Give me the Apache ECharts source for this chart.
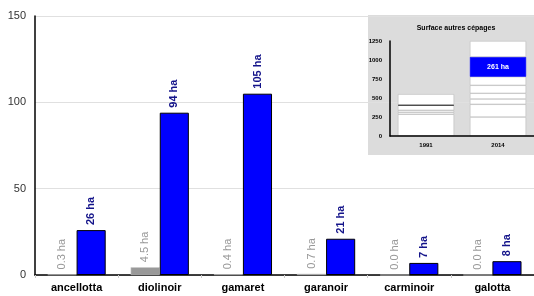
<!DOCTYPE html>
<html style="height: 100%">
    <head>
        <meta charset="utf-8">
        <script src="https://cdn.jsdelivr.net/npm/echarts@6/dist/echarts.min.js"></script>
    </head>
    <body style="height: 100%; margin: 0; background: #fff">
        <div id="main" style="width: 534px; height: 296px"></div>
        <script type="text/javascript">
            var cepages = ['ancellotta', 'diolinoir', 'gamaret', 'garanoir', 'carminoir', 'galotta'];
            var surf1991 = [0.3, 4.5, 0.4, 0.7, 0.0, 0.0];
            var surf2014 = [26, 94, 105, 21, 7, 8];

            // encart : segments empilés (ha) pour 1991 et 2014
            var annees = ['1991', '2014'];
            var segments1991 = [286, 26, 26, 67, 5.9, 140];
            var segments2014 = [250, 167, 70, 75, 105, 113, 261, 209];
            var total2014 = 261;

            var myChart = echarts.init(document.getElementById('main'));

            var insetSeries = [];
            for (let i = 0; i < segments2014.length; i++) {
                var d1991 = i < segments1991.length ? segments1991[i] : '-';
                var item1991 = { value: d1991 };
                if (i == 4) {
                    item1991.itemStyle = { color: '#000', borderColor: '#000', borderWidth: 0.8 };
                }
                var item2014 = { value: segments2014[i] };
                if (i == 6) {
                    item2014.itemStyle = { color: '#0000ff', borderColor: '#0000ff' };
                    item2014.label = {
                        show: true,
                        position: 'inside',
                        formatter: total2014 + ' ha',
                        color: '#fff',
                        fontWeight: 'bold',
                        fontSize: 7,
                        fontFamily: 'Liberation Sans'
                    };
                }
                insetSeries.push({
                    type: 'bar',
                    xAxisIndex: 1,
                    yAxisIndex: 1,
                    stack: 'total',
                    barCategoryGap: '22%',
                    silent: true,
                    itemStyle: { color: '#fff', borderColor: '#b4b4b4', borderWidth: 0.5 },
                    data: [item1991, item2014]
                });
            }

            myChart.setOption({
                backgroundColor: '#fff',
                animation: false,
                textStyle: { fontFamily: 'Liberation Sans' },
                title: {
                    text: 'Surface autres cépages',
                    left: 451,
                    textAlign: 'center',
                    top: 20,
                    textStyle: { fontSize: 7, fontWeight: 'bold', color: '#000' }
                },
                graphic: [{
                    type: 'rect',
                    z: 0,
                    shape: { x: 368, y: 15, width: 170, height: 140 },
                    style: { fill: '#dcdcdc' }
                }],
                grid: [
                    { left: 35, right: 0, top: 16, bottom: 21, containLabel: false },
                    { left: 390, right: -3, top: 41, bottom: 160, containLabel: false, z: 5 }
                ],
                xAxis: [{
                    type: 'category',
                    gridIndex: 0,
                    data: cepages,
                    axisLine: { lineStyle: { color: '#000', width: 1.5 } },
                    axisTick: { show: true, length: 3, lineStyle: { color: '#ccc' } },
                    axisLabel: { color: '#000', fontWeight: 'bold', fontSize: 11, margin: 7 }
                }, {
                    type: 'category',
                    gridIndex: 1,
                    data: annees,
                    z: 5,
                    axisLine: { lineStyle: { color: '#000', width: 1.5 } },
                    axisTick: { show: false },
                    axisLabel: { color: '#000', fontWeight: 'bold', fontSize: 6, margin: 6 }
                }],
                yAxis: [{
                    type: 'value',
                    gridIndex: 0,
                    min: 0,
                    max: 150,
                    interval: 50,
                    axisLine: { show: true, lineStyle: { color: '#000', width: 1.5 } },
                    axisTick: { show: false },
                    splitLine: { lineStyle: { color: '#e0e0e0' } },
                    axisLabel: { color: '#333', fontSize: 11, margin: 9 }
                }, {
                    type: 'value',
                    gridIndex: 1,
                    min: 0,
                    max: 1250,
                    interval: 250,
                    z: 5,
                    axisLine: { show: true, lineStyle: { color: '#000', width: 1.5 } },
                    axisTick: { show: false },
                    splitLine: { show: false },
                    axisLabel: {
                        color: '#000', fontWeight: 'bold', fontSize: 6, margin: 8,
                        formatter: function (v) { return String(v); }
                    }
                }],
                series: [{
                    type: 'bar',
                    name: '1991',
                    data: surf1991,
                    barGap: '0%',
                    barCategoryGap: '30%',
                    itemStyle: { color: '#999', borderColor: '#ccc', borderWidth: 0.5 },
                    label: {
                        show: true,
                        position: 'top',
                        rotate: 90,
                        align: 'left',
                        verticalAlign: 'middle',
                        distance: 5,
                        color: '#999',
                        fontSize: 11,
                        formatter: function (p) { return p.value.toFixed(1) + ' ha'; }
                    }
                }, {
                    type: 'bar',
                    name: '2014',
                    data: surf2014,
                    barGap: '0%',
                    barCategoryGap: '30%',
                    itemStyle: { color: '#0000ff', borderColor: '#000', borderWidth: 1 },
                    label: {
                        show: true,
                        position: 'top',
                        rotate: 90,
                        align: 'left',
                        verticalAlign: 'middle',
                        distance: 5,
                        color: '#14148a',
                        fontWeight: 'bold',
                        fontSize: 11,
                        formatter: function (p) { return p.value + ' ha'; }
                    }
                }].concat(insetSeries)
            });
        </script>
    </body>
</html>
